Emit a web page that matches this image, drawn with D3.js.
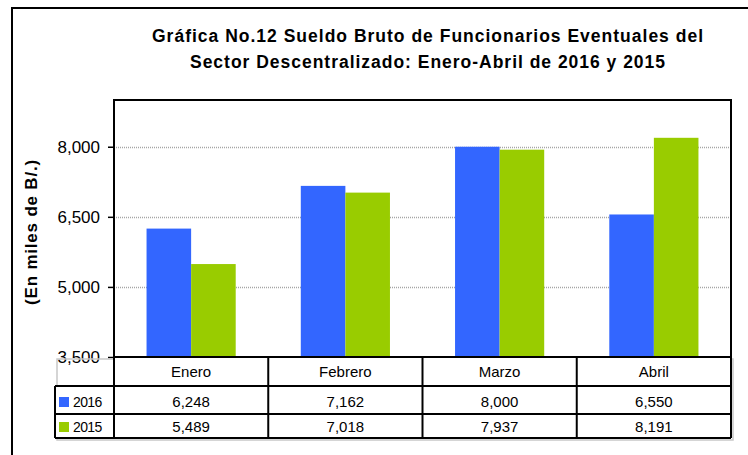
<!DOCTYPE html>
<html>
<head>
<meta charset="utf-8">
<script src="https://cdn.jsdelivr.net/npm/d3@7"></script>
<style>
  body { margin: 0; background: #fff; }
  svg text { font-family: "Liberation Sans", Arial, sans-serif; fill: #000; }
</style>
</head>
<body>
<div id="graph"></div>
<script>
var months = ["Enero", "Febrero", "Marzo", "Abril"];
var series = ["2016", "2015"];
var values2016 = [6248, 7162, 8000, 6550];
var values2015 = [5489, 7018, 7937, 8191];
var yTicks = [3500, 5000, 6500, 8000];
var colors = ["#3366ff", "#99cc00"];
var titleLines = ["Gráfica No.12 Sueldo Bruto de Funcionarios Eventuales del",
                  "Sector Descentralizado: Enero-Abril de 2016 y 2015"];

// stretch letter spacing so a text node spans the wanted width
function spread(sel, target) {
  sel.each(function() {
    var w = this.getComputedTextLength();
    var n = this.textContent.length - 1;
    d3.select(this).attr("letter-spacing", ((target - w) / n) + "px");
  });
}

function setup() {
  var width = 748, height = 455;
  var plot = {left: 114, right: 731, top: 100, bottom: 357};
  var rows = [386, 414, 438];   // bottoms of table rows
  var legendLeft = 55;

  var svg = d3.select("#graph").append("svg")
    .attr("width", width)
    .attr("height", height);

  // outer frame (extends past the picture on right/bottom)
  svg.append("rect")
    .attr("x", 12).attr("y", 8)
    .attr("width", 760).attr("height", 470)
    .attr("fill", "#fff").attr("stroke", "#000").attr("stroke-width", 2);

  // title
  var titleWidths = [551, 475];
  svg.append("g").selectAll("text")
    .data(titleLines)
    .enter().append("text")
    .attr("x", 428)
    .attr("y", (d, i) => 42 + i * 26)
    .attr("text-anchor", "middle")
    .attr("font-weight", "bold")
    .attr("font-size", "17.5px")
    .text(d => d)
    .each(function(d, i) { spread(d3.select(this), titleWidths[i]); });

  var y = d3.scaleLinear().domain([3500, 9000]).range([plot.bottom, plot.top]);
  var x0 = d3.scaleBand().domain(months).range([plot.left, plot.right]);
  var x1 = d3.scaleBand().domain(series).range([0, x0.bandwidth()]).paddingOuter(0.73);

  // gridlines
  svg.append("g").selectAll("line")
    .data(yTicks.slice(1))
    .enter().append("line")
    .attr("x1", plot.left).attr("x2", plot.right)
    .attr("y1", d => Math.round(y(d)) + 0.5).attr("y2", d => Math.round(y(d)) + 0.5)
    .attr("stroke", "#a6a6a6").attr("stroke-width", 1.5)
    .attr("stroke-dasharray", "1,1");

  // bars
  var table = months.map((m, i) => ({month: m, vals: [values2016[i], values2015[i]]}));
  svg.append("g").selectAll("g")
    .data(table)
    .enter().append("g")
    .attr("transform", d => "translate(" + x0(d.month) + ",0)")
    .selectAll("rect")
    .data(d => d.vals.map((v, j) => ({s: series[j], v: v, c: colors[j]})))
    .enter().append("rect")
    .attr("x", d => x1(d.s))
    .attr("width", x1.bandwidth())
    .attr("y", d => y(d.v))
    .attr("height", d => plot.bottom - y(d.v))
    .attr("fill", d => d.c);

  // plot border
  svg.append("rect")
    .attr("x", plot.left).attr("y", plot.top)
    .attr("width", plot.right - plot.left).attr("height", plot.bottom - plot.top)
    .attr("fill", "none").attr("stroke", "#000").attr("stroke-width", 2);

  // y axis
  var yAxis = svg.append("g")
    .attr("transform", "translate(" + plot.left + ",0)")
    .call(d3.axisLeft(y).tickValues(yTicks).tickSize(6).tickPadding(8).tickFormat(d3.format(",")));
  yAxis.select(".domain").remove();
  yAxis.selectAll("line").attr("stroke", "#000").attr("stroke-width", 1.5);
  yAxis.selectAll("text")
    .attr("font-size", "17px")
    .attr("font-family", "Liberation Sans, Arial, sans-serif")
    .attr("fill", "#000");

  // y title
  svg.append("text")
    .attr("transform", "translate(37,232) rotate(-90)")
    .attr("text-anchor", "middle")
    .attr("font-weight", "bold")
    .attr("font-size", "17px")
    .text("(En miles de B/.)")
    .call(spread, 145);

  // data table
  var tg = svg.append("g");
  var line = (x1_, y1_, x2_, y2_) => tg.append("line")
    .attr("x1", x1_).attr("y1", y1_).attr("x2", x2_).attr("y2", y2_)
    .attr("stroke", "#000").attr("stroke-width", 2);

  // shadow
  tg.append("rect")
    .attr("x", legendLeft + 2).attr("y", plot.bottom + 2)
    .attr("width", plot.right - legendLeft).attr("height", rows[2] - plot.bottom)
    .attr("fill", "none").attr("stroke", "#c8c8c8").attr("stroke-width", 1.5);
  tg.append("rect")
    .attr("x", plot.left).attr("y", plot.bottom)
    .attr("width", plot.right - plot.left).attr("height", rows[0] - plot.bottom)
    .attr("fill", "#fff");
  tg.append("rect")
    .attr("x", legendLeft).attr("y", rows[0])
    .attr("width", plot.right - legendLeft).attr("height", rows[2] - rows[0])
    .attr("fill", "#fff");

  line(plot.left, plot.bottom, plot.right, plot.bottom);
  line(plot.left, rows[0], plot.right, rows[0]);
  line(legendLeft, rows[0], plot.left, rows[0]);
  line(legendLeft, rows[1], plot.right, rows[1]);
  line(legendLeft, rows[2], plot.right, rows[2]);
  line(legendLeft, rows[0], legendLeft, rows[2]);
  months.forEach(m => line(x0(m), plot.bottom, x0(m), rows[2]));
  line(plot.right, plot.bottom, plot.right, rows[2]);

  // category labels
  tg.selectAll(".cat")
    .data(months)
    .enter().append("text")
    .attr("class", "cat")
    .attr("x", d => x0(d) + x0.bandwidth() / 2)
    .attr("y", 377)
    .attr("text-anchor", "middle")
    .attr("font-size", "15px")
    .text(d => d);

  var rowBase = [407, 432];
  [values2016, values2015].forEach((vals, j) => {
    tg.append("g").selectAll("text")
      .data(vals)
      .enter().append("text")
      .attr("x", (d, i) => x0(months[i]) + x0.bandwidth() / 2)
      .attr("y", rowBase[j])
      .attr("text-anchor", "middle")
      .attr("font-size", "15px")
      .text(d => d3.format(",")(d));

    tg.append("rect")
      .attr("x", 59).attr("y", rowBase[j] - 10)
      .attr("width", 10).attr("height", 10)
      .attr("fill", colors[j]);
    tg.append("text")
      .attr("x", 73).attr("y", rowBase[j])
      .attr("font-size", "14px")
      .attr("letter-spacing", "-0.6px")
      .text(series[j]);
  });
}

window.addEventListener('load', setup);
</script>
</body>
</html>
